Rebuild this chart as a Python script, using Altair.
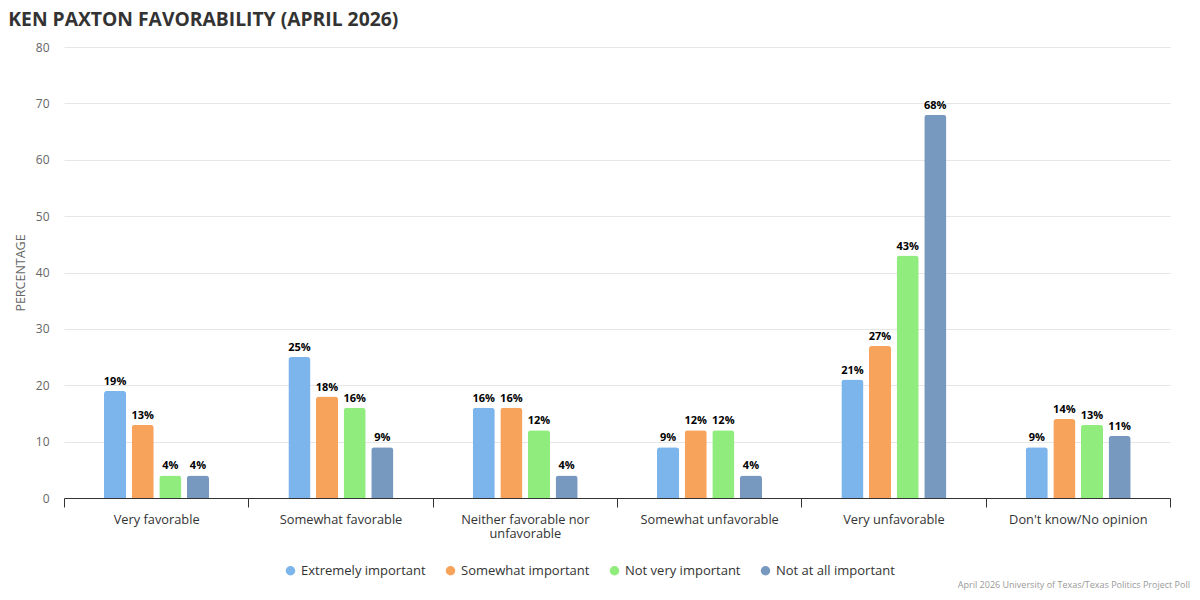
import altair as alt
import pandas as pd

categories = [
    "Very favorable",
    "Somewhat favorable",
    "Neither favorable nor unfavorable",
    "Somewhat unfavorable",
    "Very unfavorable",
    "Don't know/No opinion",
]
groups = ["Extremely important", "Somewhat important", "Not very important", "Not at all important"]
extremely = [19, 25, 16, 9, 21, 9]
somewhat = [13, 18, 16, 12, 27, 14]
not_very = [4, 16, 12, 12, 43, 13]
not_at_all = [4, 9, 4, 4, 68, 11]
colors = ["#7cb5ec", "#f7a35c", "#90ed7d", "#7798bf"]
credit = "April 2026 University of Texas/Texas Politics Project Poll"

rows = []
for g, vals in zip(groups, [extremely, somewhat, not_very, not_at_all]):
    for c, v in zip(categories, vals):
        rows.append({"category": c, "group": g, "value": v, "pct": f"{v}%"})
df = pd.DataFrame(rows)

FONT = "Open Sans"

x = alt.X(
    "category:N",
    sort=categories,
    title=None,
    scale=alt.Scale(paddingInner=0, paddingOuter=0),
    axis=alt.Axis(
        tickBand="extent",
        labelAngle=0,
        labelFontSize=12.8,
        labelColor="#333333",
        labelPadding=6,
        labelLimit=300,
        labelLineHeight=14,
        domainColor="#333333",
        tickColor="#333333",
        tickSize=9,
        grid=False,
        labelExpr="datum.label == 'Neither favorable nor unfavorable' ? ['Neither favorable nor', 'unfavorable'] : datum.label",
    ),
)
# bar group sits in the middle of each category band
xoff = alt.XOffset(
    "group:N", sort=groups,
    scale=alt.Scale(range=[40, 145], paddingInner=0.2, paddingOuter=0),
)

base = alt.Chart(df).encode(x=x, xOffset=xoff)

bars = base.mark_bar(cornerRadiusTopLeft=3, cornerRadiusTopRight=3).encode(
    y=alt.Y(
        "value:Q",
        title="PERCENTAGE",
        scale=alt.Scale(domain=[0, 80]),
        axis=alt.Axis(
            values=list(range(0, 81, 10)),
            labelColor="#666666",
            labelFontSize=12,
            labelPadding=15,
            tickSize=0,
            domain=False,
            gridColor="#e6e6e6",
            titleColor="#666666",
            titleFontSize=12.5,
            titleFontWeight="normal",
            titlePadding=8,
        ),
    ),
    color=alt.Color(
        "group:N",
        sort=groups,
        scale=alt.Scale(domain=groups, range=colors),
        legend=alt.Legend(
            title=None,
            orient="none",
            direction="horizontal",
            legendX=220,
            legendY=517,
            symbolType="circle",
            symbolSize=90,
            symbolStrokeWidth=0,
            labelFontSize=13,
            labelColor="#333333",
            columnPadding=18,
        ),
    ),
)

labels = base.mark_text(
    dy=-9, fontWeight="bold", fontSize=11, color="#000000", font=FONT
).encode(y="value:Q", text="pct:N")

footer = alt.Chart(pd.DataFrame({"t": [credit]})).mark_text(
    align="right", fontSize=9, color="#999999", font=FONT
).encode(text="t:N", x=alt.value(1126), y=alt.value(538))

chart = alt.layer(bars, labels, footer).properties(
    width=1106,
    height=451,
    autosize=alt.AutoSizeParams(type="none"),
    padding={"left": 56, "top": 39, "right": 22, "bottom": 94},
    title=alt.TitleParams(
        "KEN PAXTON FAVORABILITY (APRIL 2026)",
        anchor="start",
        dx=-6,
        fontSize=19.3,
        font=FONT,
        fontWeight="bold",
        color="#333333",
        offset=11,
    ),
).configure(font=FONT).configure_view(strokeWidth=0)

chart.save("out.html", embed_options={"renderer": "svg", "actions": False})
